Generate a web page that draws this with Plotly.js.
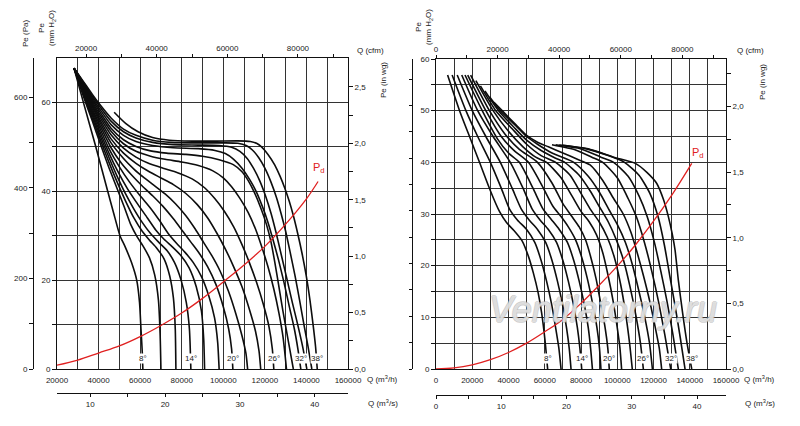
<!DOCTYPE html>
<html><head><meta charset="utf-8">
<script src="https://cdn.plot.ly/plotly-3.0.1.min.js"></script>
<style>html,body{margin:0;padding:0;background:#fff}#chart{width:800px;height:426px}</style>
</head><body><div id="chart"></div>
<script>
// ---------- LEFT CHART: Q (m3/h) vs Pe (mm H2O) ----------
const L08q=[28200,33000,38500,44400,47300,50300,52700,55900,58300,59700,60400,61000,61300];
const L08p=[67.7,59.5,50.3,40,35,30,27.6,23.9,20.1,15,9,4,0];
const L10q=[28200,33000,37000,41000,45000,49000,52500,55500,58500,61500,64500,67000,68800,69600,70000];
const L10p=[67.7,61,55.8,50.5,45.3,40.5,36.3,32.5,29.8,27.6,25,21.2,15.5,8,0];
const L12q=[28200,33000,37000,41000,45000,49000,53000,57000,61000,64500,68000,71500,74200,76000,76900,77200];
const L12p=[67.7,61.4,56.4,51.4,46.5,42,37.8,34,31,29,27.2,24.8,21,16,9,0];
const L14q=[28200,33000,37000,41000,45000,49000,53000,57000,61000,65000,69000,73000,76500,79700,82200,83700,84400];
const L14p=[67.7,61.7,57,52.2,47.6,43.3,39.4,36,33,30.5,28.5,26.6,24,20,15,9,0];
const L16q=[28200,33000,37000,41000,45000,49000,54000,59000,63500,67500,71500,75500,79500,83500,87000,89500,90600,91000];
const L16p=[67.7,62,57.5,53,48.6,44.7,40.5,37,34,31.3,29.2,27.5,25.6,22.8,18.5,13,6.5,0];
const L18q=[28200,33000,37000,41000,45000,50000,55000,60000,65000,69500,73500,77500,81500,85500,89500,93000,95800,97300,98000];
const L18p=[67.7,62.3,58,53.8,49.6,45.5,42,39,36.2,33.3,30.5,28.3,26.3,24,20.8,16.5,11.5,6,0];
const L20q=[28200,33000,37000,41000,46000,51000,56000,61000,66000,71000,76000,80500,84500,88500,92500,96500,100000,102600,104000,104600];
const L20p=[67.7,62.6,58.5,54.5,49.8,46.3,43.6,41.2,39,36.6,33.8,31,28.5,26,23,19,14,9,4.5,0];
const L22q=[28200,33000,37000,41000,46000,52000,57000,62000,67000,72000,77000,82000,86500,90500,94500,98500,102500,106000,109000,110900,111700];
const L22p=[67.7,62.9,59,55.2,50.9,47.4,45,43,41.2,39.4,37.2,34.5,31.5,28.5,25.5,22,17.5,12.5,7.5,3.5,0];
const L24q=[28200,33000,37000,41000,46000,52000,58000,64000,70000,76000,82000,87500,92500,97000,101000,105000,109000,112500,115500,117200,118000];
const L24p=[67.7,63.2,59.4,55.8,51.8,48.6,46.3,44.5,43,41.5,39.5,37,34,30.5,27,23,18.5,13.5,8.5,4,0];
const L26q=[28200,33000,37000,41000,46000,52000,58000,64000,71000,78000,85000,91000,96000,100500,105000,109000,112500,116000,119300,122000,123600,124300];
const L26p=[67.7,63.4,59.8,56.4,52.7,49.7,47.7,46.3,45.2,44.2,42.8,40.8,38.3,35.5,32,28,24,19.5,14.5,9.5,4.5,0];
const L28q=[28200,33000,37000,41000,46000,52000,58000,65000,72000,80000,88000,95000,100000,104000,108000,112000,115500,118500,121500,124300,126800,128800,130400];
const L28p=[67.7,63.7,60.2,57,53.5,50.7,49,47.9,47.2,46.6,45.8,44.6,43,41,38.4,35.2,31.5,27.5,23,18,12.5,7,0];
const L30q=[28200,33000,37000,41000,46000,52000,58000,65000,72700,82000,90000,98000,104800,109000,112000,115000,118000,120800,123000,124800,126600,128700,131200,133700];
const L30p=[67.7,63.9,60.6,57.6,54.2,51.6,50.1,49.1,48.6,48.3,47.9,47.1,46,44.4,42.4,39.7,36.3,32.5,28.5,24,19,13,6.5,0];
const L32q=[28200,33000,37000,41000,46000,52000,58000,66000,76000,88000,96000,101000,105000,109000,112500,115800,118800,121500,124000,126600,129200,131800,134200,135900,137300];
const L32p=[67.7,64.1,61,58.2,55,52.6,51.2,50.3,49.8,49.6,49.2,48.5,47.2,45.2,42.8,40,36.6,33,29,24.5,19.5,14,9,4.5,0];
const L34q=[28200,33000,37000,41000,46000,52000,58000,66000,76000,88000,98000,104000,108000,111500,114500,117500,120300,123000,125500,128000,130500,133200,135800,138200,140200];
const L34p=[67.7,64.3,61.4,58.8,55.8,53.4,52,51,50.5,50.4,50.3,49.9,49,47.4,45.2,42.4,39,35,30.5,25.5,20.5,15,10,5,0];
const L36q=[28200,33000,37000,41000,46000,52000,58000,66000,75000,88000,100000,107000,111000,114000,117000,120000,123000,125500,127800,130000,132300,134500,136700,138800,140800,142600];
const L36p=[67.7,64.5,61.8,59.3,56.5,54,52.6,51.5,51,50.9,50.9,50.8,50.3,49.3,47.6,45.2,42,38.7,35,31,26,21,15.5,10,5,0];
const L38q=[47500,53000,59000,66000,74000,85000,97000,107000,113000,116000,118400,121500,124800,127300,129600,131700,133600,135800,137900,139900,141700,143200,144400,145200];
const L38p=[57.8,55.3,53.4,52.1,51.5,51.3,51.3,51.35,51.2,50.8,50,48.3,45.9,43.4,40.7,37.8,34.7,30.5,26,21,15.5,10,5,0];
const LPdq=[20000,30000,40000,50000,60000,70000,80000,90000,100000,110000,120000,130000,140000,145600];
const LPdp=[0.85,2.0,3.6,5.2,7.3,9.8,12.6,15.9,19.6,23.4,27.6,32.6,38.3,42.2];

// ---------- RIGHT CHART ----------
const R08q=[6400,13000,18500,24000,30000,35000,39000,43000,47500,51000,53700,56400,58300,60100,61600];
const R08p=[56.9,50,45,40,34.5,30.5,28.3,26.8,24.8,21.8,18.6,14.7,10.8,5.7,0];
const R10q=[8900,16500,23000,30000,36000,40500,45000,50000,54500,58000,61000,63800,66000,67800,69000];
const R10p=[56.9,50,45,40,35,31,28.8,27,24.5,21,17,12.5,8,4,0];
const R12q=[11700,20000,27500,35500,42000,47000,51500,56000,60500,64000,67000,69800,72000,73500,74500];
const R12p=[56.9,50,45,40,35,31,28.8,27,24.5,21,17,12.5,8,4,0];
const R14q=[14200,23000,31500,41000,48000,53000,57500,62000,66500,70000,73000,75800,78000,79400,80400];
const R14p=[56.9,50,45,40,35,31,28.8,27,24.5,21,17,12.5,8,4,0];
const R16q=[16000,25500,34000,40000,46000,53500,59000,63500,68000,72500,76000,79000,81800,84000,85300,86300];
const R16p=[56.9,50,44.5,41.8,40,35,31,29,27,24.5,21,17,12.5,8,4,0];
const R18q=[17500,27500,36000,43000,51000,58500,64500,69000,73000,77000,80500,83500,86500,88800,90200,91000];
const R18p=[56.9,50,45,42.3,40,35.5,31.5,29.5,27.5,25,21.5,17.5,12.5,8,4,0];
const R20q=[19100,29500,38000,46000,56000,64000,70000,75000,79000,82500,85500,88300,91000,93300,94800,95600];
const R20p=[56.9,50,45.5,42.5,40,36,32,29.5,27.5,25,21.5,17.5,12.5,8,4,0];
const R22q=[22000,31500,40000,48000,55000,61000,69000,75000,80000,84500,88500,92000,95000,97800,100000,101500,102400];
const R22p=[55.8,50,46,43,41,40,37,33.5,30.5,28.5,26,22.5,18,13,8,4,0];
const R24q=[24500,33000,42000,50000,58000,66000,74000,80000,85000,90000,94500,98500,101800,104500,106800,108300];
const R24p=[54.8,50,46.5,43.5,41.3,40,37.5,34,31,28.5,25.5,21.5,16.5,11,5,0];
const R26q=[27000,34500,43000,50000,58000,66000,71000,79000,85000,90000,95000,99500,103500,107000,110200,112800,114400];
const R26p=[53.8,50,46.8,44.3,42.3,40.8,40,37.5,34.5,31.5,28.5,25,21,16,10.5,5,0];
const R28q=[29500,35500,44000,50000,56000,64000,76000,84000,90000,95200,100000,104500,108500,112000,115200,117800,119400];
const R28p=[52.7,50,47.1,45,43.5,41.8,40,37.3,34.3,31,28,24.5,20,15,10,5,0];
const R30q=[32000,36500,44000,50000,56000,62000,70000,78000,85000,92000,98000,103300,107500,111000,114500,118000,121000,123200,124500];
const R30p=[51.6,50,47.3,45.2,43.9,43,41.8,40.6,39.5,36.5,33,30,26.5,22.5,18,13,8,4,0];
const R32q=[64000,77000,86000,92000,100000,106000,110500,115000,119000,122800,126300,129500];
const R32p=[43.4,42.4,41,40,37,33,29.5,24.5,19,13,6.5,0];
const R34q=[66000,80000,91000,98000,106000,112000,116500,120500,124000,127500,130800,133700];
const R34p=[43.4,42.6,41,40,37.3,33.5,29.5,24.5,19,13,6.5,0];
const R36q=[68000,82000,95000,104000,112000,118000,122500,126000,129000,132000,134800,137400];
const R36p=[43.35,42.7,41.3,40,37.5,34,29.5,24,18,12,6,0];
const R38q=[70000,84000,98000,110000,116500,121800,125500,128200,130300,131900,133700,136000,138500,141100];
const R38p=[43.3,42.6,41,39.8,38,35.9,32.8,29.5,26.2,23,17.2,11,5,0];
const RPdq=[0,10000,20000,30000,40000,50000,60000,70000,80000,90000,100000,110000,120000,130000,141100];
const RPdp=[0,0.2,0.8,1.8,3.2,5,7.2,9.6,12.7,16.2,19.9,24,28.6,33.6,39.8];

// ---------- tick labels ----------
const angleLabels=['8°','14°','20°','26°','32°','38°'];
const qhTicksL=[20000,30000,40000,50000,60000,70000,80000,90000,100000,110000,120000,130000,140000,150000,160000];
const qhTextL=['20000','','40000','','60000','','80000','','100000','','120000','','140000','','160000'];
const qhTicksR=[0,10000,20000,30000,40000,50000,60000,70000,80000,90000,100000,110000,120000,130000,140000,150000,160000];
const qhTextR=['0','','20000','','40000','','60000','','80000','','100000','','120000','','140000','','160000'];
const cfmTicksL=[20000,30000,40000,50000,60000,70000,80000,90000];
const cfmTextL=['20000','','40000','','60000','','80000',''];
const cfmTicksR=[0,10000,20000,30000,40000,50000,60000,70000,80000,90000];
const cfmTextR=['0','','20000','','40000','','60000','','80000',''];
const qsTicksL=[10,15,20,25,30,35,40];
const qsTextL=['10','','20','','30','','40'];
const qsTicksR=[0,5,10,15,20,25,30,35,40];
const qsTextR=['0','','10','','20','','30','','40'];
const mmTicksL=[0,10,20,30,40,50,60];
const mmTextL=['0','','20','','40','','60'];
const mmTicksR=[0,5,10,15,20,25,30,35,40,45,50,55,60];
const mmTextR=['0','','10','','20','','30','','40','','50','','60'];
const paTicksL=[0,100,200,300,400,500,600];
const paTextL=['0','','200','','400','','600'];
const paTicksR=[0,50,100,150,200,250,300,350,400,450,500,550];
const inwgTicksL=[0,0.25,0.5,0.75,1,1.25,1.5,1.75,2,2.25,2.5];
const inwgTextL=['0,0','','0,5','','1,0','','1,5','','2,0','','2,5'];
const inwgTicksR=[0,0.25,0.5,0.75,1,1.25,1.5,1.75,2,2.25];
const inwgTextR=['0,0','','0,5','','1,0','','1,5','','2,0',''];

// ---------- build ----------
const W=800,H=426;
const PX=v=>v/W, PY=v=>1-v/H;
const CFM=1.699011, MMPA=9.80665, MMIN=25.4;

const leftCurves=[[L08q,L08p],[L10q,L10p],[L12q,L12p],[L14q,L14p],[L16q,L16p],[L18q,L18p],[L20q,L20p],[L22q,L22p],[L24q,L24p],[L26q,L26p],[L28q,L28p],[L30q,L30p],[L32q,L32p],[L34q,L34p],[L36q,L36p],[L38q,L38p]];
const rightCurves=[[R08q,R08p],[R10q,R10p],[R12q,R12p],[R14q,R14p],[R16q,R16p],[R18q,R18p],[R20q,R20p],[R22q,R22p],[R24q,R24p],[R26q,R26p],[R28q,R28p],[R30q,R30p],[R32q,R32p],[R34q,R34p],[R36q,R36p],[R38q,R38p]];

const traces=[];
const curveLine={color:'#0d0d0d',width:1.6,shape:'spline',smoothing:0.6};
leftCurves.forEach(c=>traces.push({x:c[0],y:c[1],xaxis:'x',yaxis:'y',mode:'lines',line:curveLine,hoverinfo:'skip',showlegend:false}));
traces.push({x:LPdq,y:LPdp,xaxis:'x',yaxis:'y',mode:'lines',line:{color:'#e02020',width:1.3,shape:'spline'},hoverinfo:'skip',showlegend:false});
rightCurves.forEach(c=>traces.push({x:c[0],y:c[1],xaxis:'x4',yaxis:'y4',mode:'lines',line:curveLine,hoverinfo:'skip',showlegend:false}));
traces.push({x:RPdq,y:RPdp,xaxis:'x4',yaxis:'y4',mode:'lines',line:{color:'#e02020',width:1.3,shape:'spline'},hoverinfo:'skip',showlegend:false});
// empty traces so that the secondary axes are drawn
[['x2','y'],['x3','y'],['x','y2'],['x','y3'],['x5','y4'],['x6','y4'],['x4','y5'],['x4','y6']].forEach(p=>traces.push({x:[null],y:[null],xaxis:p[0],yaxis:p[1],mode:'lines',hoverinfo:'skip',showlegend:false}));

const GRID='#333';
const tf={size:8,color:'#222',family:'Liberation Sans, Arial, sans-serif'};
function ax(o){return Object.assign({showline:true,linecolor:'#111',linewidth:1,zeroline:false,tickfont:tf,tickcolor:'#111',tickwidth:1,tickmode:'array',fixedrange:true,showgrid:false},o);}

const yDomL=[PY(369),PY(58)], yDomR=[PY(369),PY(59)];
const layout={
  width:W,height:H,margin:{l:0,r:0,t:0,b:0},paper_bgcolor:'#fff',plot_bgcolor:'#fff',showlegend:false,
  font:{family:'Liberation Sans, Arial, sans-serif',size:8,color:'#222'},
  xaxis:ax({domain:[PX(57),PX(348)],range:[20000,160000],anchor:'y',tickvals:qhTicksL,ticktext:qhTextL,ticks:'outside',ticklen:3,tickcolor:'rgba(0,0,0,0)',showgrid:true,gridcolor:GRID,gridwidth:1}),
  yaxis:ax({domain:yDomL,range:[0,70],anchor:'x',tickvals:mmTicksL,ticktext:mmTextL,ticks:'outside',ticklen:4,showgrid:true,gridcolor:GRID,gridwidth:1}),
  xaxis2:ax({overlaying:'x',anchor:'y',side:'top',range:[20000/CFM,160000/CFM],tickvals:cfmTicksL,ticktext:cfmTextL,ticks:'outside',ticklen:3}),
  xaxis3:ax({overlaying:'x',anchor:'free',position:PY(393),side:'bottom',range:[20000/3600,160000/3600],tickvals:qsTicksL,ticktext:qsTextL,ticks:'outside',ticklen:3}),
  yaxis2:ax({overlaying:'y',anchor:'free',position:PX(33),side:'left',range:[0,70*MMPA],tickvals:paTicksL,ticktext:paTextL,ticks:'outside',ticklen:4}),
  yaxis3:ax({overlaying:'y',anchor:'x',side:'right',range:[0,70/MMIN],tickvals:inwgTicksL,ticktext:inwgTextL,ticks:'outside',ticklen:4}),

  xaxis4:ax({domain:[PX(436),PX(726)],range:[0,160000],anchor:'y4',tickvals:qhTicksR,ticktext:qhTextR,ticks:'outside',ticklen:3,tickcolor:'rgba(0,0,0,0)',showgrid:true,gridcolor:GRID,gridwidth:1}),
  yaxis4:ax({domain:yDomR,range:[0,60],anchor:'x4',tickvals:mmTicksR,ticktext:mmTextR,ticks:'outside',ticklen:4,showgrid:true,gridcolor:GRID,gridwidth:1}),
  xaxis5:ax({overlaying:'x4',anchor:'y4',side:'top',range:[0,160000/CFM],tickvals:cfmTicksR,ticktext:cfmTextR,ticks:'outside',ticklen:3}),
  xaxis6:ax({overlaying:'x4',anchor:'free',position:PY(395),side:'bottom',range:[0,160000/3600],tickvals:qsTicksR,ticktext:qsTextR,ticks:'outside',ticklen:3}),
  yaxis5:ax({overlaying:'y4',anchor:'free',position:PX(412),side:'left',range:[0,60*MMPA],tickvals:paTicksR,showticklabels:false,ticks:'outside',ticklen:3}),
  yaxis6:ax({overlaying:'y4',anchor:'x4',side:'right',range:[0,60/MMIN],tickvals:inwgTicksR,ticktext:inwgTextR,ticks:'outside',ticklen:4}),
  annotations:[]
};

const A=layout.annotations;
function note(text,x,y,o){A.push(Object.assign({text:text,x:PX(x),y:PY(y),xref:'paper',yref:'paper',showarrow:false,xanchor:'center',yanchor:'middle',font:{size:8,color:'#222'}},o||{}));}
note('Pe (Pa)',25,34,{textangle:-90});
note('Pe<br>(mm H<sub>2</sub>O)',47,28,{textangle:-90});
note('Q (cfm)',370,50);
note('Pe (in wg)',383,80,{textangle:-90});
note('Q (m<sup>3</sup>/h)',382,379);
note('Q (m<sup>3</sup>/s)',383,403);
note('P<sub>d</sub>',319,168,{font:{size:11,color:'#e02020'}});
note('Pe<br>(mm H<sub>2</sub>O)',424,27,{textangle:-90});
note('Q (cfm)',750,50);
note('Pe (in wg)',762,82,{textangle:-90});
note('Q (m<sup>3</sup>/h)',759,379);
note('Q (m<sup>3</sup>/s)',760,403);
note('P<sub>d</sub>',698,153,{font:{size:11,color:'#e02020'}});
// outlined watermark
note('Ventilatorny.ru',603,309,{font:{size:36,color:'rgba(255,255,255,0.55)',style:'italic',family:'Liberation Sans, Arial, sans-serif',
  shadow:'1px 0 0 #b4b4b4, -1px 0 0 #b4b4b4, 0 1px 0 #b4b4b4, 0 -1px 0 #b4b4b4'}});

const labLeft=[L08q,L14q,L20q,L26q,L32q,L38q], labRight=[R08q,R14q,R20q,R26q,R32q,R38q];
angleLabels.forEach((t,i)=>{
  A.push({text:t,x:labLeft[i][labLeft[i].length-1],y:2.3,xref:'x',yref:'y',showarrow:false,font:{size:8,color:'#222'},bgcolor:'#fff',borderpad:0});
  A.push({text:t,x:labRight[i][labRight[i].length-1],y:2.0,xref:'x4',yref:'y4',showarrow:false,font:{size:8,color:'#222'},bgcolor:'#fff',borderpad:0});
});

Plotly.newPlot('chart',traces,layout,{staticPlot:true,displayModeBar:false});
</script></body></html>
